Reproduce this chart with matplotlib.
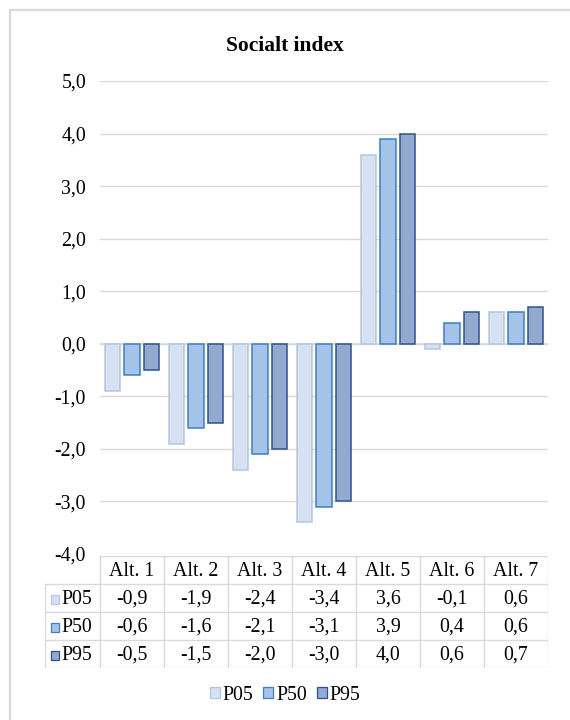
import numpy as np
import matplotlib
matplotlib.use("Agg")
import matplotlib.pyplot as plt
from matplotlib.patches import Rectangle

plt.rcParams["font.family"] = ["Liberation Serif", "DejaVu Serif"]

# Chart values, one list per percentile.
categories = ["Alt. 1", "Alt. 2", "Alt. 3", "Alt. 4", "Alt. 5", "Alt. 6", "Alt. 7"]
series     = ["P05", "P50", "P95"]
p05        = [-0.9, -1.9, -2.4, -3.4, 3.6, -0.1, 0.6]
p50        = [-0.6, -1.6, -2.1, -3.1, 3.9, 0.4, 0.6]
p95        = [-0.5, -1.5, -2.0, -3.0, 4.0, 0.6, 0.7]
yTicks     = [-4, -3, -2, -1, 0, 1, 2, 3, 4, 5]
title      = "Socialt index"

faceColors = ["#d6e1f2", "#a3c3e9", "#93a9d0"]
edgeColors = ["#b3c6e4", "#3f7fc4", "#2f528f"]
gridColor  = "#d9d9d9"
fontSize   = 14.3

W, H = 570, 720
figure = plt.figure(figsize=(W/100, H/100), dpi=100)

def px(x0, y0, x1, y1):
    # Pixel box (left, top, right, bottom) -> figure fraction rectangle.
    return [x0/W, 1 - y1/H, (x1 - x0)/W, (y1 - y0)/H]

# Outer chart frame.
figure.add_artist(Rectangle((10/W, -0.1), 1.2, 1 - 10/H + 0.1, transform=figure.transFigure,
                            fill=False, edgecolor="#d9d9d9", linewidth=1.6))

axis = figure.add_axes(px(100, 81, 548, 554))
x = np.arange(len(categories))
width  = 0.235
offset = 0.305
for i, values in enumerate([p05, p50, p95]):
    axis.bar(x + (i - 1)*offset, values, width, color=faceColors[i],
             edgecolor=edgeColors[i], linewidth=1.1, zorder=3)

axis.set_xlim(-0.5, len(categories) - 0.5)
axis.set_ylim(-4, 5)
axis.set_yticks(yTicks)
axis.set_yticklabels([("%.1f" % v).replace(".", ",") for v in yTicks])
axis.tick_params(axis="y", length=0, pad=10, labelsize=fontSize)
axis.set_xticks([])
axis.grid(axis="y", color=gridColor, linewidth=1.0, zorder=0)
for spine in axis.spines.values():
    spine.set_visible(False)
axis.axhline(0, color=gridColor, linewidth=1.2, zorder=2)

figure.text(285/W, 1 - 46/H, title, ha="center", va="center", fontsize=15.5, fontweight="bold")

# Data table under the plot, same column spacing as the categories.
colWidth = 448/len(categories)
left, top = 45, 556
rowHeight = 28
tableAxis = figure.add_axes(px(left, top, 548, top + 4*rowHeight))
labelWidth = (100 - left)/colWidth
tableAxis.set_xlim(-0.5 - labelWidth, len(categories) - 0.5)
tableAxis.set_ylim(4, 0)
tableAxis.axis("off")

lineKw = dict(color=gridColor, linewidth=1.0)
xEdge = -0.5 - labelWidth
xRight = len(categories) - 0.5
tableAxis.plot([-0.5, xRight], [0, 0], **lineKw)
for r in range(1, 5):
    tableAxis.plot([xEdge, xRight], [r, r], **lineKw)
tableAxis.plot([xEdge, xEdge], [1, 4], **lineKw)
for c in range(len(categories) + 1):
    tableAxis.plot([c - 0.5, c - 0.5], [0, 4], **lineKw)

for c, name in enumerate(categories):
    tableAxis.text(c, 0.55, name, ha="center", va="center", fontsize=fontSize)

for r, (name, values) in enumerate(zip(series, [p05, p50, p95])):
    yRow = r + 1.55
    tableAxis.add_patch(Rectangle((xEdge + 0.1, yRow - 0.17), 0.12, 0.32,
                                  facecolor=faceColors[r], edgecolor=edgeColors[r], linewidth=0.9))
    tableAxis.text(xEdge + 0.25, yRow, name, ha="left", va="center", fontsize=fontSize)
    for c, v in enumerate(values):
        tableAxis.text(c, yRow, ("%.1f" % v).replace(".", ","), ha="center", va="center", fontsize=fontSize)

# Legend below the table.
handles = [Rectangle((0, 0), 1, 1, facecolor=faceColors[i], edgecolor=edgeColors[i], linewidth=0.9)
           for i in range(len(series))]
figure.legend(handles, series, loc="center", bbox_to_anchor=(285/W, 1 - 695/H), ncol=3,
              frameon=False, fontsize=fontSize, handlelength=0.5, handleheight=0.5,
              handletextpad=0.15, columnspacing=0.5)

figure.savefig("out.png", dpi=100)
